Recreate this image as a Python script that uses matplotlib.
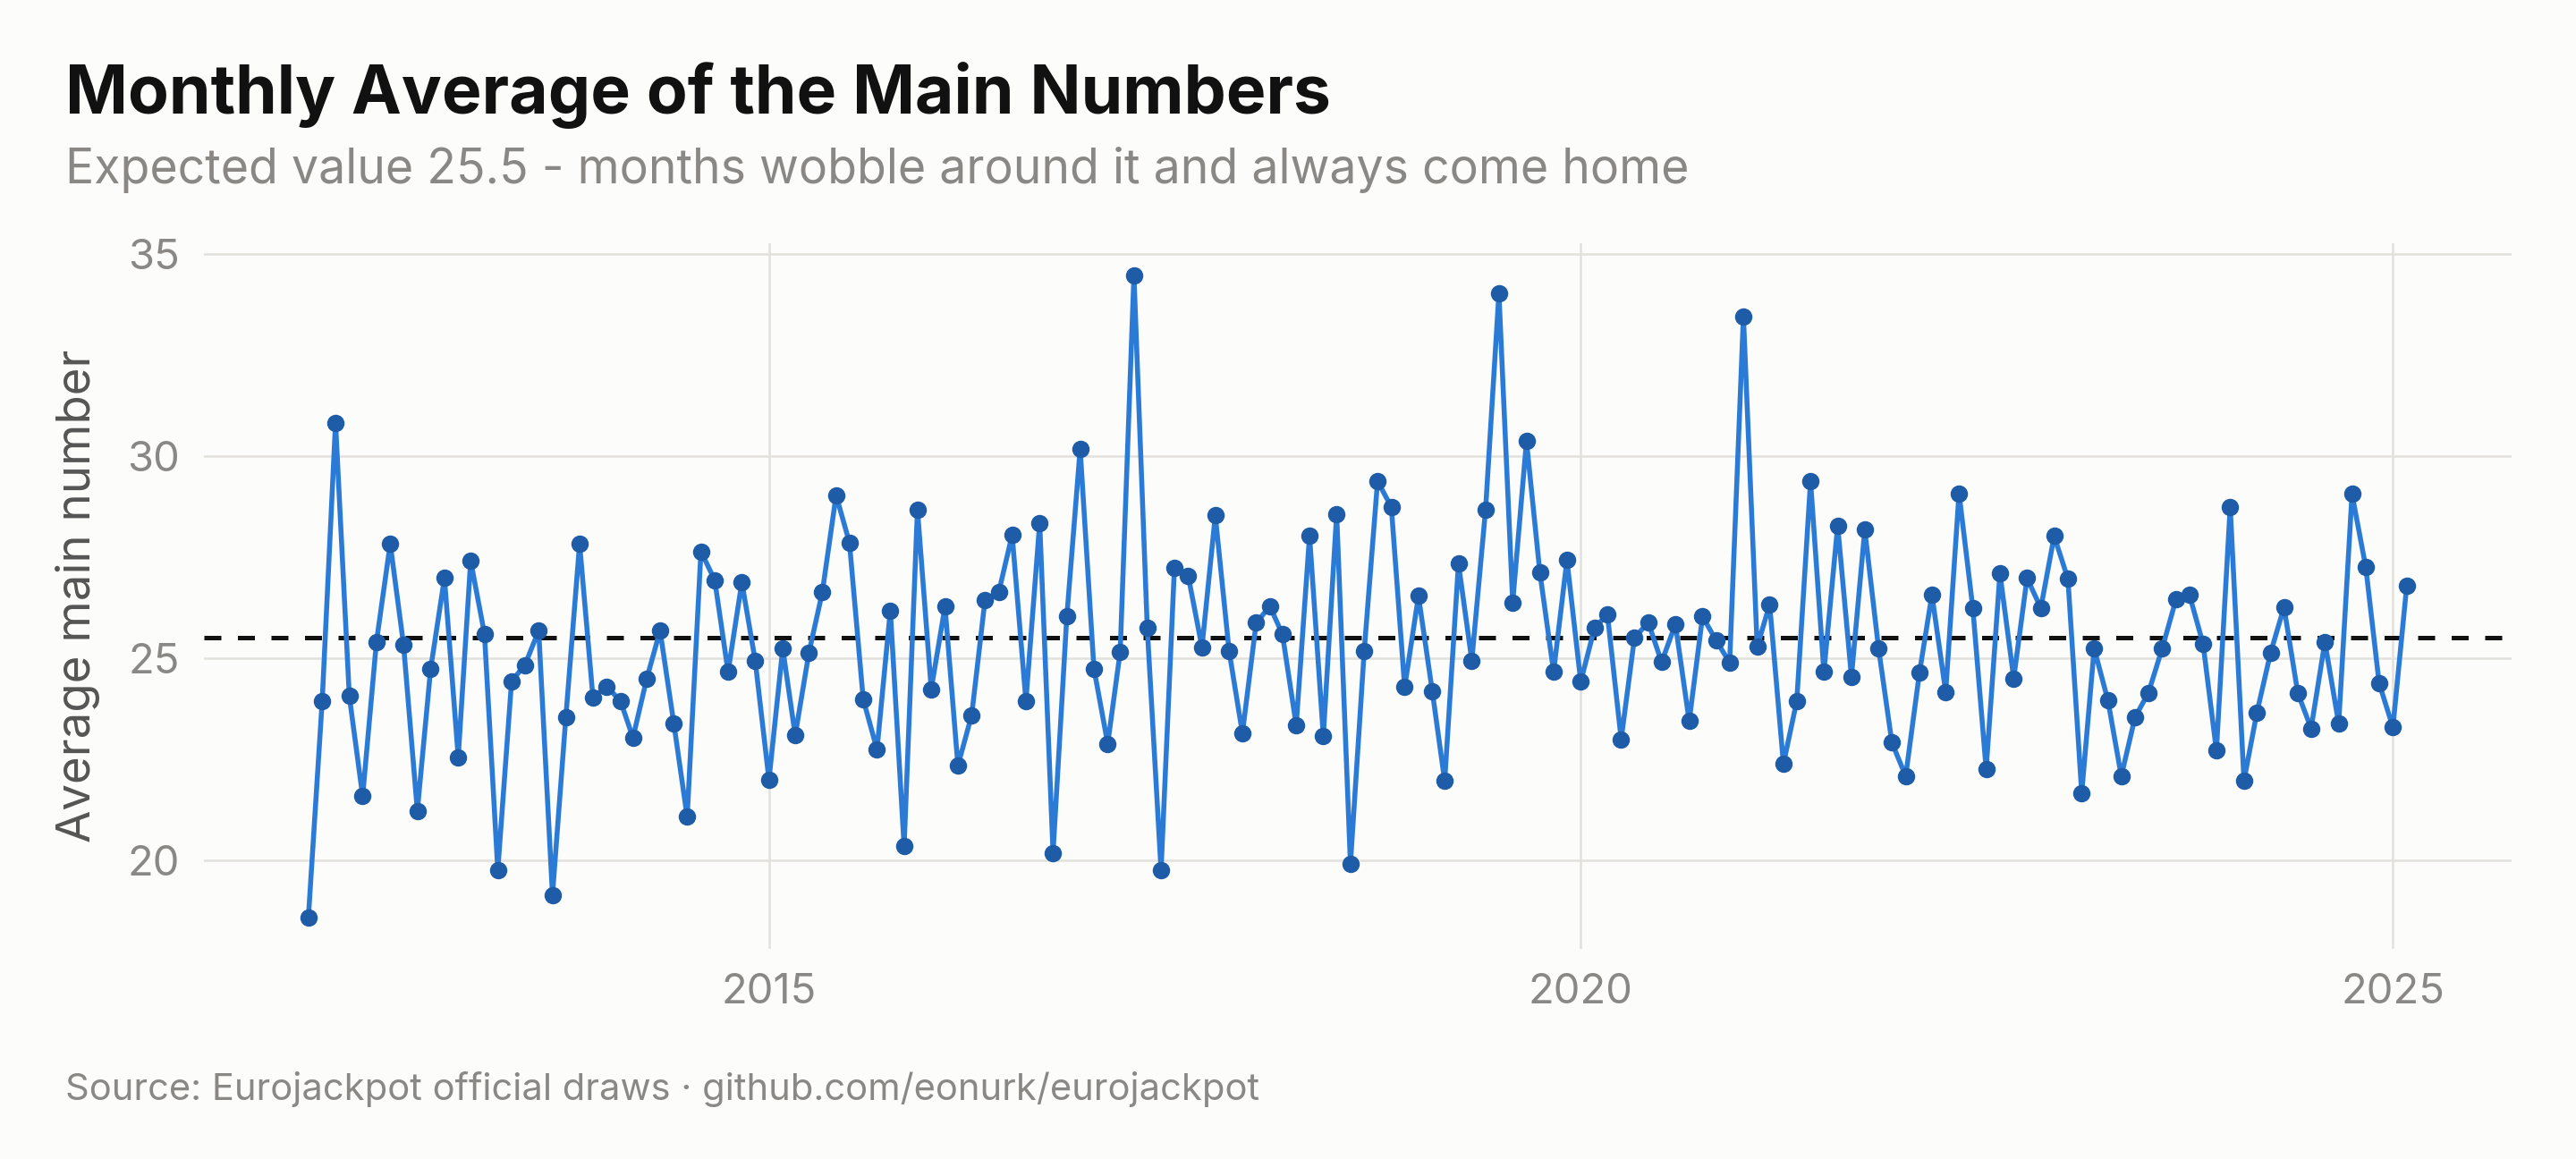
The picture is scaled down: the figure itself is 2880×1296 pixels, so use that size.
import matplotlib
matplotlib.use("Agg")
import matplotlib.pyplot as plt
import matplotlib.dates as mdates
import pandas as pd

# monthly average of the 5 main numbers, Mar 2012 .. Feb 2025
months = pd.date_range("2012-03-01", "2025-02-01", freq="MS")
avg_main = [
    18.59, 23.94, 30.83, 24.06, 21.58, 25.40, 27.83, 25.33, 21.22, 24.74,
    26.98, 22.55, 27.41, 25.60, 19.75, 24.43, 24.83, 25.68, 19.14, 23.53,
    27.83, 24.03, 24.30, 23.94, 23.03, 24.49, 25.68, 23.38, 21.07, 27.64,
    26.93, 24.66, 26.88, 24.94, 21.99, 25.24, 23.09, 25.14, 26.63, 29.03,
    27.86, 23.98, 22.74, 26.18, 20.34, 28.68, 24.23, 26.28, 22.34, 23.59,
    26.44, 26.64, 28.05, 23.94, 28.35, 20.18, 26.03, 30.18, 24.74, 22.88,
    25.15, 34.47, 25.74, 19.75, 27.23, 27.04, 25.27, 28.53, 25.18, 23.14,
    25.88, 26.28, 25.59, 23.34, 28.03, 23.07, 28.57, 19.91, 25.18, 29.38,
    28.74, 24.28, 26.54, 24.19, 21.96, 27.34, 24.94, 28.68, 34.03, 26.38,
    30.37, 27.13, 24.66, 27.43, 24.42, 25.74, 26.09, 22.99, 25.51, 25.88,
    24.90, 25.84, 23.44, 26.03, 25.43, 24.89, 33.46, 25.28, 26.33, 22.38,
    23.94, 29.38, 24.66, 28.28, 24.54, 28.18, 25.24, 22.91, 22.08, 24.64,
    26.57, 24.16, 29.08, 26.24, 22.25, 27.10, 24.50, 26.98, 26.24, 28.02,
    26.96, 21.66, 25.24, 23.95, 22.08, 23.54, 24.14, 25.24, 26.45, 26.58,
    25.35, 22.71, 28.74, 21.97, 23.65, 25.14, 26.26, 24.14, 23.26, 25.40,
    23.38, 29.06, 27.25, 24.38, 23.29, 26.78,
]
expected = 25.5
y_ticks = [20, 25, 30, 35]

plt.rcParams["font.family"] = ["Inter", "DejaVu Sans"]

bg = "#fcfcfa"
fig = plt.figure(figsize=(14.4, 6.48), dpi=200, facecolor=bg)
ax = fig.add_axes([0.079, 0.181, 0.896, 0.609])
ax.set_facecolor(bg)

ax.plot(months, avg_main, color="#2b7bd6", lw=2.0, marker="o", markersize=6,
        markerfacecolor="#1f5ca8", markeredgecolor="#1f5ca8", zorder=3)
ax.axhline(expected, color="#111111", lw=1.8, dashes=(3.8, 3.7), zorder=2)

ax.set_yticks(y_ticks)
ax.xaxis.set_major_locator(mdates.YearLocator(5))
ax.xaxis.set_major_formatter(mdates.DateFormatter("%Y"))
ax.grid(True, color="#e2e1dc", lw=0.9)
ax.set_axisbelow(True)
for s in ax.spines.values():
    s.set_visible(False)
ax.tick_params(length=0, labelsize=17, labelcolor="#8a8884", pad=9.5)
ax.set_ylabel("Average main number", fontsize=19, color="#555555", labelpad=11)

fig.text(0.0253, 0.902, "Monthly Average of the Main Numbers", fontsize=27,
         fontweight="bold", color="#111111", va="baseline")
fig.text(0.0253, 0.842, "Expected value 25.5 - months wobble around it and always come home",
         fontsize=19.3, color="#8a8884", va="baseline")
fig.text(0.0253, 0.051, "Source: Eurojackpot official draws \u00b7 github.com/eonurk/eurojackpot",
         fontsize=15, color="#8a8884", va="baseline")

fig.savefig("out.png", dpi=200, facecolor=bg)
